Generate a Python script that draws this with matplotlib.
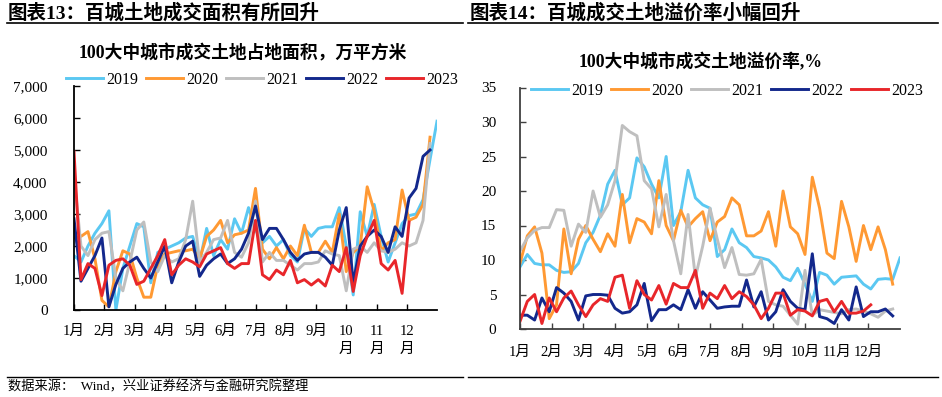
import matplotlib
matplotlib.use("Agg")
import matplotlib.pyplot as plt
from matplotlib.lines import Line2D

# ---------------- data ----------------
years = ["2019", "2020", "2021", "2022", "2023"]
colors = ["#5BC8F2", "#FF9933", "#BFBFBF", "#13288C", "#E8262A"]
month_labels_left = ["1月", "2月", "3月", "4月", "5月", "6月", "7月", "8月", "9月", "10\n月", "11\n月", "12\n月"]
month_labels_right = ["1月", "2月", "3月", "4月", "5月", "6月", "7月", "8月", "9月", "10月", "11月", "12月"]
area_ticks = [0, 1000, 2000, 3000, 4000, 5000, 6000, 7000]
prem_ticks = [0, 5, 10, 15, 20, 25, 30, 35]

# land area, 10k m2 (weekly)
area_2019 = [1700, 1500, 2000, 2400, 2700, 3100, 0, 1300, 2000, 2700, 2600, 850, 1800, 1900, 2000, 2100,
             2250, 2300, 1500, 2550, 1700, 2200, 1900, 2850, 2400, 3200, 2500, 2100, 2300, 2000, 2200, 1700,
             1500, 2550, 2300, 2550, 2600, 2600, 3200, 2000, 470, 3070, 2300, 3300, 2300, 1500, 2100, 2700,
             2950, 3000, 3450, 4700, 5900]
area_2020 = [2250, 2300, 2450, 1600, 300, 100, 1200, 1850, 1750, 1000, 400, 400, 1400, 1750, 1800, 1850,
             1850, 1900, 1600, 2300, 2500, 2800, 2100, 2350, 2400, 2500, 3800, 1900, 1600, 1950, 1600, 2000,
             1700, 2650, 1800, 1800, 2150, 1800, 3000, 1200, 1800, 2000, 3850, 3100, 1850, 2100, 2200, 3750,
             2800, 2900, 3300, 5400]
area_2021 = [4200, 2000, 1700, 2200, 2400, 2450, 1000, 600, 1500, 2500, 2750, 1500, 1200, 1700, 1500, 1600,
             2200, 3400, 1500, 1800, 2200, 2250, 2800, 1800, 1650, 2100, 3400, 1500, 1800, 1550, 1550, 1400,
             1250, 1450, 1450, 1500, 1850, 1750, 1700, 600, 1900, 2000, 1800, 2100, 1850, 1800, 1900, 2100,
             2000, 2100, 2800, 5200]
area_2022 = [2850, 900, 1300, 1700, 2250, 100, 800, 1300, 1500, 1650, 1300, 1000, 1500, 2000, 850, 1500,
             2000, 2150, 1050, 1400, 1600, 1750, 1450, 1600, 1900, 2400, 3250, 2200, 2550, 2550, 2200, 1800,
             1550, 1750, 1800, 1800, 1650, 1400, 2500, 3200, 850, 2000, 2300, 2500, 2300, 1800, 2600, 2300,
             3500, 3800, 4800, 5000]
area_2023 = [4950, 950, 1450, 1300, 450, 1400, 1550, 1600, 1400, 800, 900, 1300, 1700, 2200, 1100, 1400,
             1600, 1500, 1350, 1750, 1850, 1950, 1450, 1300, 1450, 1450, 2800, 1100, 950, 1250, 1100, 1550,
             850, 950, 780, 950, 750, 1400, 1200, 1950, 580, 1700, 2300, 2800, 1450, 1250, 1550, 520, 2750]

# land premium rate, % (weekly)
prem_2019 = [9.0, 10.8, 9.5, 9.3, 9.3, 8.5, 8.2, 8.3, 9.5, 12.5, 14.0, 16.5, 21.0, 23.0, 18.0, 19.0,
             24.8, 23.5, 21.0, 19.0, 25.0, 15.0, 17.0, 23.0, 19.0, 18.0, 17.5, 10.5, 11.5, 14.5, 12.5, 11.8,
             10.5, 10.3, 10.0, 9.0, 7.5, 7.0, 8.8, 6.5, 4.0, 8.2, 7.8, 6.5, 7.5, 7.6, 7.7, 6.5,
             5.8, 7.2, 7.3, 7.2, 10.3]
prem_2020 = [9.5, 13.5, 14.8, 11.0, 1.5, 3.5, 14.5, 8.0, 13.0, 15.0, 13.0, 11.2, 13.8, 12.0, 19.5, 12.5,
             16.0, 15.5, 13.8, 21.5, 15.0, 12.8, 17.2, 14.8, 16.0, 17.0, 12.8, 15.5, 16.3, 19.0, 18.0, 13.5,
             13.5, 14.2, 17.0, 12.0, 20.0, 14.8, 13.8, 10.8, 22.0, 17.5, 11.0, 10.2, 18.5, 14.8, 9.8, 15.0,
             11.5, 14.8, 11.5, 6.5]
prem_2021 = [11.3, 13.2, 14.3, 14.7, 14.7, 17.3, 17.2, 12.0, 15.2, 14.0, 20.0, 16.2, 18.0, 21.5, 29.5, 28.6,
             28.0, 21.5, 20.3, 14.8, 19.5, 12.8, 8.0, 16.6, 7.5, 12.0, 17.5, 13.0, 8.9, 11.8, 7.9, 7.8,
             8.0, 10.1, 4.0, 3.5, 3.3, 2.0, 0.7, 8.5, 2.0, 2.8, 2.6, 2.4, 2.2, 2.8, 2.9, 2.6,
             2.2, 1.7, 2.6, 2.9]
prem_2022 = [2.0, 2.0, 1.3, 4.5, 2.5, 6.0, 5.2, 4.0, 1.3, 4.8, 5.0, 5.0, 4.9, 3.0, 2.3, 2.5,
             3.5, 6.6, 1.2, 2.8, 2.8, 3.5, 2.8, 5.7, 3.0, 5.4, 4.2, 3.0, 3.2, 3.3, 3.3, 7.1,
             3.2, 5.4, 1.3, 2.5, 5.7, 4.0, 3.0, 2.8, 10.9, 1.8, 1.5, 0.8, 2.8, 1.3, 6.1, 1.8,
             2.5, 2.5, 2.9, 1.9]
prem_2023 = [1.1, 4.0, 5.0, 0.8, 4.5, 2.5, 4.5, 5.5, 3.5, 1.8, 3.5, 4.4, 4.0, 7.5, 7.8, 3.0,
             7.0, 5.0, 4.2, 6.3, 3.6, 6.6, 6.0, 6.0, 8.5, 3.0, 5.2, 4.4, 6.3, 4.4, 5.4, 4.7,
             3.5, 1.5, 3.0, 5.2, 5.2, 2.0, 2.8, 2.6, 1.9, 4.0, 4.3, 2.5, 4.0, 2.3, 2.3, 2.6, 3.5]

area_series = [area_2019, area_2020, area_2021, area_2022, area_2023]
prem_series = [prem_2019, prem_2020, prem_2021, prem_2022, prem_2023]

# ---------------- style ----------------
SERIF = ["Liberation Serif", "Noto Sans CJK SC"]
plt.rcParams["font.family"] = SERIF
plt.rcParams["axes.unicode_minus"] = False

W, H = 942, 397
fig = plt.figure(figsize=(W / 100, H / 100), dpi=100)


def fx(px):
    return px / W


def fy(py):
    return 1 - py / H


# headers
fig.text(fx(8), fy(13), "图表13：百城土地成交面积有所回升", fontsize=14, fontweight="bold",
         family=SERIF, va="center", ha="left")
fig.text(fx(470), fy(13), "图表14：百城成交土地溢价率小幅回升", fontsize=14, fontweight="bold",
         family=SERIF, va="center", ha="left")
for x0, x1 in [(7, 463), (468, 938)]:
    fig.add_artist(Line2D([fx(x0), fx(x1)], [fy(23), fy(23)], color="black", lw=1.2))
    fig.add_artist(Line2D([fx(x0), fx(x1)], [fy(376.5), fy(376.5)], color="black", lw=1.0))
fig.text(fx(8), fy(387), "数据来源：  Wind，兴业证券经济与金融研究院整理", fontsize=9.5,
         family=SERIF, va="center", ha="left")

# chart titles
fig.text(fx(243), fy(53), "100大中城市成交土地占地面积，万平方米", fontsize=12.8, fontweight="bold",
         family=SERIF, va="center", ha="center")
fig.text(fx(701), fy(62), "100大中城市成交土地溢价率,%", fontsize=12.8, fontweight="bold",
         family=SERIF, va="center", ha="center")


def setup_axes(ax, spine_color, yticks, ylim, xlabels, ypad, xpad):
    for s in ["top", "right"]:
        ax.spines[s].set_visible(False)
    for s in ["left", "bottom"]:
        ax.spines[s].set_color(spine_color)
        ax.spines[s].set_linewidth(1.3)
    ax.set_xlim(0, 52)
    ax.set_ylim(*ylim)
    ax.set_yticks(yticks)
    ax.set_xticks([i * 52 / 12 for i in range(12)])
    ax.set_xticklabels(xlabels, fontsize=10.5, family=SERIF, linespacing=1.5, va="top")
    ax.tick_params(axis="both", direction="in", length=4, width=1.0, color=spine_color)
    ax.tick_params(axis="y", pad=ypad, labelsize=11)
    ax.tick_params(axis="x", pad=xpad)


# ---------------- left chart ----------------
axL = fig.add_axes([fx(74), 1 - 310 / H, fx(437) - fx(74), (310 - 86) / H])
handles = []
for yr, col, ser in zip(years, colors, area_series):
    h, = axL.plot(range(len(ser)), ser, color=col, lw=2.1, solid_joinstyle="round", label=yr)
    handles.append(h)
setup_axes(axL, "black", area_ticks, (0, 7000), month_labels_left, ypad=19, xpad=11)
axL.set_yticklabels([f"{v:,}" for v in area_ticks], family=SERIF)
fig.legend(handles=handles, labels=years, loc="center", bbox_to_anchor=(fx(262), fy(80)),
           ncol=5, frameon=False, handlelength=2.3, handletextpad=0.2,
           columnspacing=0.5, prop={"family": SERIF, "size": 11.5})

# ---------------- right chart ----------------
axR = fig.add_axes([fx(520), 1 - 329 / H, fx(900) - fx(520), (329 - 87.5) / H])
handles = []
for yr, col, ser in zip(years, colors, prem_series):
    h, = axR.plot(range(len(ser)), ser, color=col, lw=2.1, solid_joinstyle="round", label=yr)
    handles.append(h)
setup_axes(axR, "#404040", prem_ticks, (0, 35), month_labels_right, ypad=17, xpad=12)
axR.set_yticklabels([str(v) for v in prem_ticks], family=SERIF)
fig.legend(handles=handles, labels=years, loc="center", bbox_to_anchor=(fx(727), fy(91)),
           ncol=5, frameon=False, handlelength=2.3, handletextpad=0.2,
           columnspacing=0.5, prop={"family": SERIF, "size": 11.5})

fig.savefig("out.png", dpi=100)
